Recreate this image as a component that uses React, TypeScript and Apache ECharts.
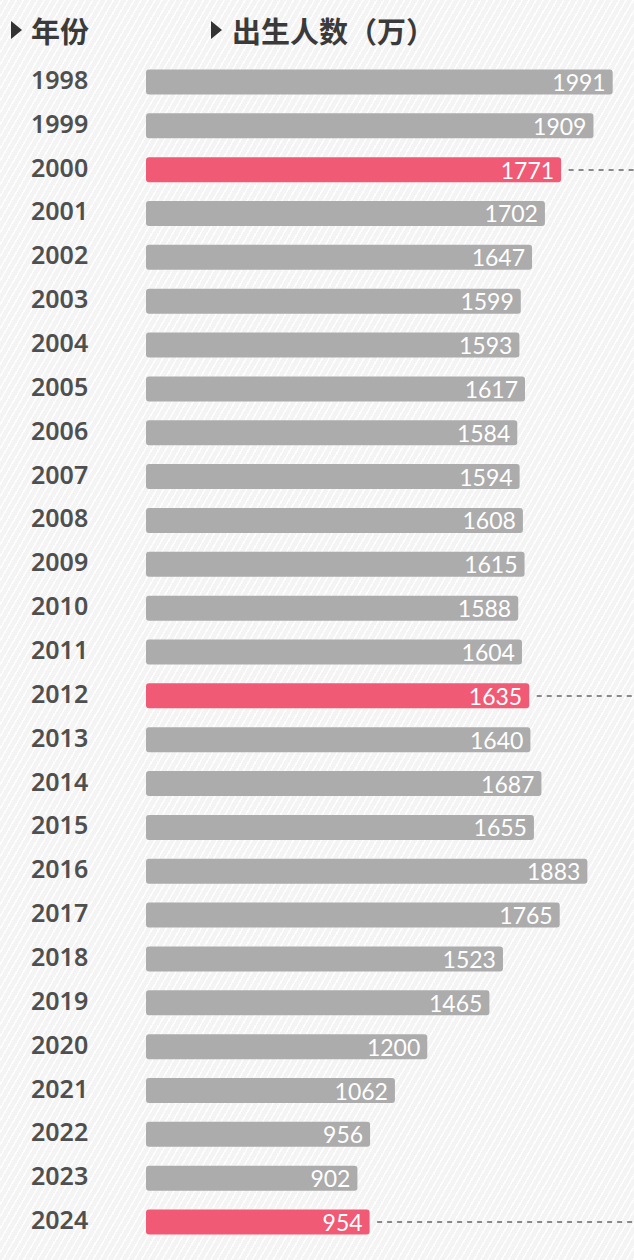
import React, { useEffect, useRef } from "react";
import * as echarts from "echarts";

const years = ["1998","1999","2000","2001","2002","2003","2004","2005","2006","2007","2008","2009","2010","2011","2012","2013","2014","2015","2016","2017","2018","2019","2020","2021","2022","2023","2024"];
const births = [1991,1909,1771,1702,1647,1599,1593,1617,1584,1594,1608,1615,1588,1604,1635,1640,1687,1655,1883,1765,1523,1465,1200,1062,956,902,954];
const highlightYears = ["2000","2012","2024"];
const headerYear = "年份";
const headerBirths = "出生人数（万）";

const GRAY = "#acacac";
const RED = "#f05a74";
const AXIS_MAX = 2082;

export default function App() {
  const ref = useRef<HTMLDivElement>(null);
  useEffect(() => {
    if (!ref.current) return;
    const chart = echarts.init(ref.current, null, { renderer: "svg" });
    const data = births.map((v, i) => ({
      value: v,
      itemStyle: { color: highlightYears.includes(years[i]) ? RED : GRAY },
    }));
    const markData = highlightYears.map((y) => {
      const v = births[years.indexOf(y)];
      return [
        { coord: [v + 32, y] },
        { coord: [AXIS_MAX, y] },
      ];
    });
    chart.setOption({
      animation: false,
      backgroundColor: "transparent",
      grid: { left: 146, right: 0, top: 60, bottom: 16, containLabel: false },
      xAxis: {
        type: "value",
        min: 0,
        max: AXIS_MAX,
        show: false,
      },
      yAxis: {
        type: "category",
        data: years,
        inverse: true,
        axisLine: { show: false },
        axisTick: { show: false },
        splitLine: { show: false },
        axisLabel: {
          align: "left",
          margin: 115,
          formatter: "{y|{value}}",
          rich: {
            y: {
              color: "#4f4f4f",
              fontSize: 25,
              fontWeight: 600,
              fontFamily: "Noto Sans",
              padding: [0, 0, 6, 0],
            },
          },
        },
      },
      series: [
        {
          type: "bar",
          data,
          barWidth: 25,
          itemStyle: { borderRadius: 3 },
          label: {
            show: true,
            position: "insideRight",
            distance: 7,
            color: "#ffffff",
            fontSize: 23,
            fontWeight: 400,
            fontFamily: "Lato",
          },
          markLine: {
            silent: true,
            symbol: "none",
            label: { show: false },
            lineStyle: { type: [5, 5], color: "#666", width: 1.5 },
            data: markData,
          },
        },
      ],
      graphic: [
        { type: "polygon", shape: { points: [[11, 21], [22, 30], [11, 39]] }, style: { fill: "#333" } },
        {
          type: "text", x: 31, y: 30,
          style: { text: headerYear, fill: "#3a3a3a", font: "bold 29px 'Noto Sans CJK SC'", verticalAlign: "middle" },
        },
        { type: "polygon", shape: { points: [[211, 21], [222, 30], [211, 39]] }, style: { fill: "#333" } },
        {
          type: "text", x: 232, y: 30,
          style: { text: headerBirths, fill: "#3a3a3a", font: "bold 29px 'Noto Sans CJK SC'", verticalAlign: "middle" },
        },
      ],
    });
    return () => chart.dispose();
  }, []);
  return (
    <div
      style={{
        position: "absolute",
        left: 0,
        top: 0,
        width: 634,
        height: 1260,
        backgroundColor: "#f4f4f4",
        backgroundImage:
          "repeating-linear-gradient(-60deg, rgba(255,255,255,0.9) 0px, rgba(255,255,255,0.9) 1.5px, transparent 1.5px, transparent 6px)",
      }}
    >
      <div ref={ref} style={{ width: 634, height: 1260 }} />
    </div>
  );
}
